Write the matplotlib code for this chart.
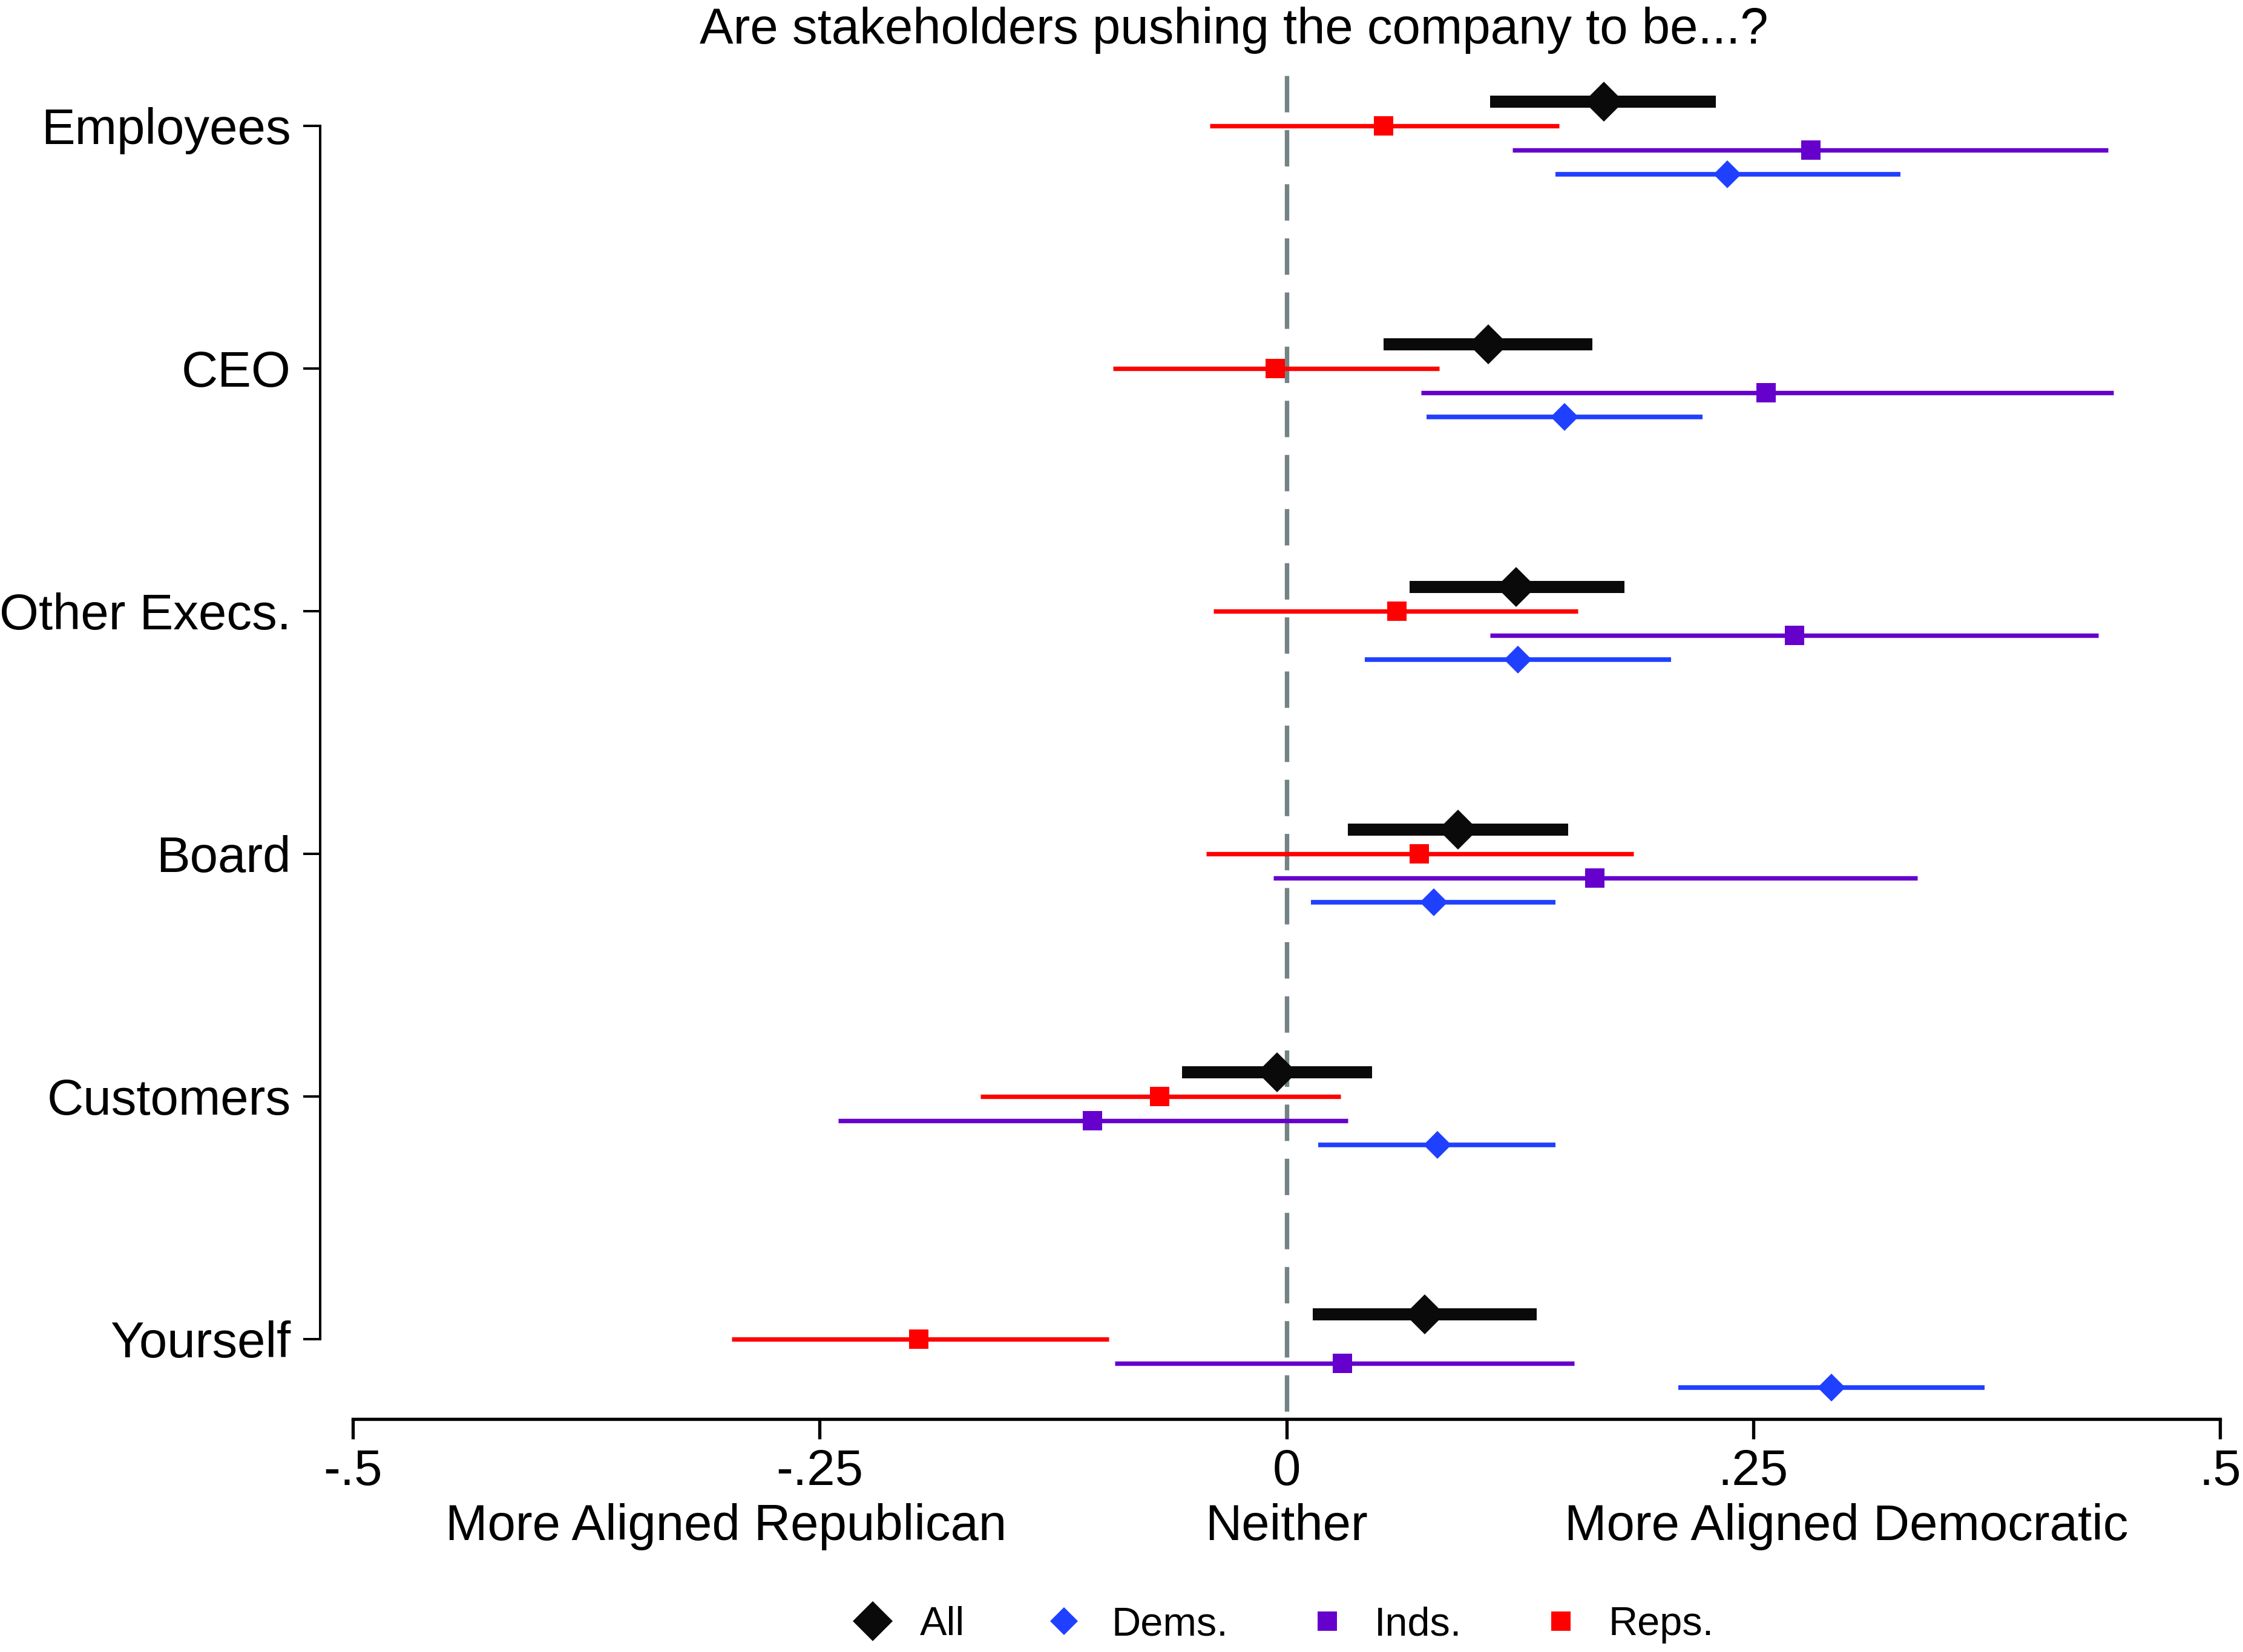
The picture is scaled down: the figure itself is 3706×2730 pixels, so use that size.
import matplotlib
matplotlib.use("Agg")
import matplotlib.pyplot as plt
from matplotlib.lines import Line2D
from matplotlib.transforms import blended_transform_factory

plt.rcParams["font.family"] = ["Liberation Sans", "DejaVu Sans"]

# ---- data ----
stakeholders = ["Employees", "CEO", "Other Execs.", "Board", "Customers", "Yourself"]

all_est = [0.170, 0.108, 0.123, 0.092, -0.005, 0.074]
all_lo = [0.109, 0.052, 0.066, 0.033, -0.056, 0.014]
all_hi = [0.230, 0.164, 0.181, 0.151, 0.046, 0.134]

reps_est = [0.052, -0.006, 0.059, 0.071, -0.068, -0.197]
reps_lo = [-0.041, -0.093, -0.039, -0.043, -0.164, -0.297]
reps_hi = [0.146, 0.082, 0.156, 0.186, 0.029, -0.095]

inds_est = [0.281, 0.257, 0.272, 0.165, -0.104, 0.030]
inds_lo = [0.121, 0.072, 0.109, -0.007, -0.240, -0.092]
inds_hi = [0.440, 0.443, 0.435, 0.338, 0.033, 0.154]

dems_est = [0.236, 0.149, 0.124, 0.079, 0.081, 0.292]
dems_lo = [0.144, 0.075, 0.042, 0.013, 0.017, 0.210]
dems_hi = [0.329, 0.223, 0.206, 0.144, 0.144, 0.374]

xticks = [-0.5, -0.25, 0, 0.25, 0.5]
xtick_labels = ["-.5", "-.25", "0", ".25", ".5"]
side_pos = [-0.3, 0, 0.3]
side_labels = ["More Aligned Republican", "Neither", "More Aligned Democratic"]

title = "Are stakeholders pushing the company to be...?"

# ---- figure ----
W, H, DPI = 3706, 2730, 240
fig = plt.figure(figsize=(W / DPI, H / DPI), dpi=DPI)
ax = fig.add_axes([583 / W, 1 - 2345 / H, (3668 - 583) / W, (2345 - 125) / H])

n = len(stakeholders)
centers = [n - i for i in range(n)]  # Employees on top

black = "#0a0a0a"
blue = "#2040ff"
purple = "#6600cc"
red = "#ff0000"

series = [
    # label, est, lo, hi, offset, color, marker, ms, lw
    ("All", all_est, all_lo, all_hi, 0.1, black, "D", 13.8, 6.0),
    ("Reps.", reps_est, reps_lo, reps_hi, 0.0, red, "s", 9.8, 2.2),
    ("Inds.", inds_est, inds_lo, inds_hi, -0.1, purple, "s", 9.8, 2.2),
    ("Dems.", dems_est, dems_lo, dems_hi, -0.2, blue, "D", 9.8, 2.3),
]

# zero reference line, dashes start at the top like the original
ax.axvline(0, 1, 0, color="#738282", lw=2.2,
           linestyle=(0, (8.2, 4.0)), zorder=1)

handles = {}
for label, est, lo, hi, off, col, mk, ms, lw in series:
    ys = [c + off for c in centers]
    ax.hlines(ys, lo, hi, color=col, lw=lw, zorder=3)
    ax.plot(est, ys, linestyle="none", marker=mk, ms=ms, color=col,
            markeredgewidth=0, zorder=4)
    handles[label] = Line2D([], [], linestyle="none", marker=mk, ms=ms,
                            color=col, markeredgewidth=0)

ax.set_xlim(-0.5, 0.5)
ax.set_ylim(0.6695, 6.207)

for s in ("top", "right"):
    ax.spines[s].set_visible(False)
ax.spines["left"].set_position(("outward", 16.3))
ax.spines["left"].set_bounds(1, n)
ax.spines["left"].set_linewidth(1.2)
ax.spines["bottom"].set_linewidth(1.6)

ax.set_yticks(centers)
ax.set_yticklabels(stakeholders, fontsize=25)
ax.set_xticks(xticks)
ax.set_xticklabels(xtick_labels, fontsize=25)
ax.tick_params(axis="y", direction="out", length=8.4, width=1.2, pad=6)
ax.tick_params(axis="x", direction="out", length=9.9, width=1.6, pad=4.5)

trans = blended_transform_factory(ax.transData, ax.transAxes)
for xp, txt in zip(side_pos, side_labels):
    ax.text(xp, -0.0901, txt, transform=trans, ha="center", va="baseline",
            fontsize=25)

fig.text(862.5 / 1568, 1 - 72 / H, title, ha="center", va="baseline",
         fontsize=25)

order = ["All", "Dems.", "Inds.", "Reps."]
fig.legend([handles[k] for k in order], order, loc="center",
           bbox_to_anchor=(897 / 1568, 1 - 1136 / 1155), ncol=4,
           frameon=False, fontsize=20, handlelength=1.0, handletextpad=0.68,
           columnspacing=1.95)

fig.savefig("out.png", dpi=DPI)
